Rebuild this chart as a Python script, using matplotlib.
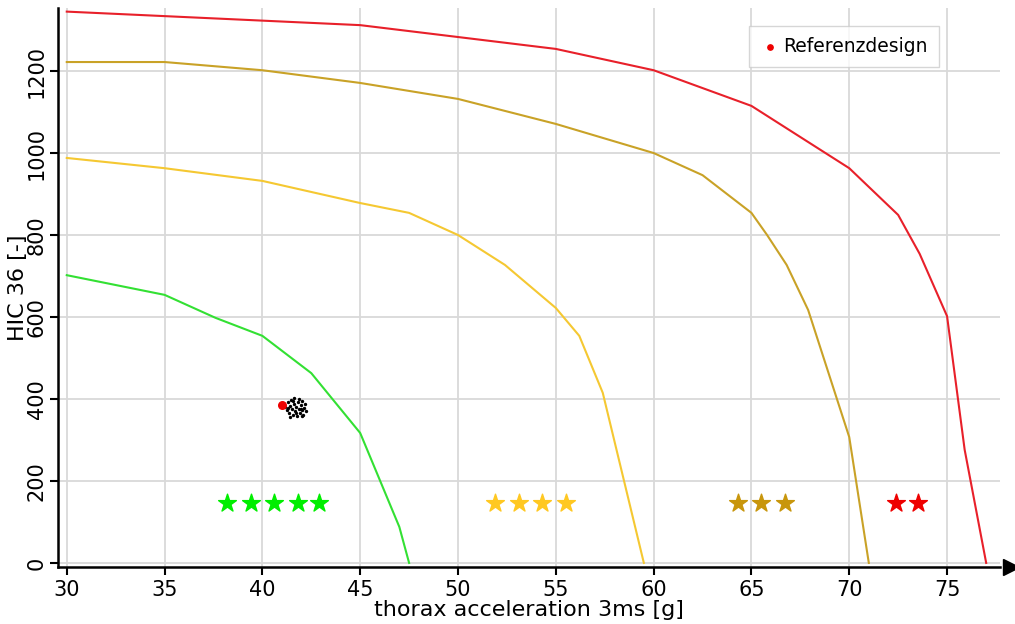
import numpy as np
import matplotlib.pyplot as plt

# limit curves (thorax acceleration [g], HIC 36 [-])
xRed = [30, 45, 50, 55, 60, 65, 70, 72.5, 73.6, 75, 75.9, 77]
yRed = [1345, 1312, 1283, 1254, 1202, 1115, 963, 849, 754, 602, 276, 0]

xGold = [30, 35, 40, 45, 50, 55, 60, 62.5, 65, 65.8, 66.8, 67.9, 70, 71]
yGold = [1222, 1222, 1202, 1171, 1132, 1071, 1000, 946, 854, 800, 727, 617, 307, 0]

xYellow = [30, 35, 40, 45, 47.5, 50, 52.4, 55, 56.2, 57.4, 59.5]
yYellow = [988, 963, 932, 878, 854, 800, 727, 622, 554, 415, 0]

xGreen = [30, 35, 37.6, 40, 42.5, 45, 47.0, 47.5]
yGreen = [702, 654, 598, 554, 463, 317, 88, 0]

# star rating markers
starGreenX = [38.2, 39.4, 40.6, 41.8, 42.9]
starYellowX = [51.9, 53.1, 54.3, 55.5]
starGoldX = [64.3, 65.5, 66.7]
starRedX = [72.4, 73.5]
starY = 145

# design samples around the reference design
sampleX = [41.15, 41.25, 41.3, 41.35, 41.4, 41.45, 41.5, 41.55, 41.6, 41.6, 41.65, 41.7,
           41.75, 41.8, 41.85, 41.9, 41.95, 42.0, 42.05, 42.1, 42.15, 42.2, 41.4, 41.55,
           41.7, 41.85, 42.0, 41.3, 41.95, 42.25]
sampleY = [380, 372, 392, 365, 384, 398, 375, 362, 388, 402, 370, 380, 358, 392, 375, 366,
           385, 372, 396, 362, 378, 388, 355, 395, 365, 400, 358, 378, 375, 370]

refX = [41.0]
refY = [385]


def main():
    fig = plt.figure(figsize=(10.15, 6.24), dpi=100)
    ax = fig.add_axes([0.0571, 0.0913, 0.928, 0.896])

    ax.plot(xRed, yRed, color="#e8202a", lw=1.5)
    ax.plot(xGold, yGold, color="#c9a227", lw=1.5)
    ax.plot(xYellow, yYellow, color="#f5c832", lw=1.5)
    ax.plot(xGreen, yGreen, color="#33e033", lw=1.5)

    ax.scatter(starGreenX, [starY] * len(starGreenX), marker="*", s=180, color="#00ee00", zorder=3)
    ax.scatter(starYellowX, [starY] * len(starYellowX), marker="*", s=180, color="#ffc822", zorder=3)
    ax.scatter(starGoldX, [starY] * len(starGoldX), marker="*", s=180, color="#c8960c", zorder=3)
    ax.scatter(starRedX, [starY] * len(starRedX), marker="*", s=180, color="#ee0000", zorder=3)

    ax.scatter(sampleX, sampleY, s=2, color="black", zorder=4)
    ax.scatter(refX, refY, s=30, color="#ee0000", zorder=5, label="Referenzdesign")

    ax.set_xlim(29.55, 77.7)
    ax.set_ylim(-10, 1354)
    ax.set_xticks(np.arange(30, 80, 5))
    ax.set_yticks(np.arange(0, 1400, 200))
    ax.grid(True, color="#d9d9d9", lw=1.3)
    ax.set_axisbelow(True)

    for s in ["top", "right"]:
        ax.spines[s].set_visible(False)
    ax.spines["left"].set_linewidth(1.8)
    ax.spines["bottom"].set_linewidth(1.8)
    ax.plot(1.012, 0, ">k", markersize=12, transform=ax.transAxes, clip_on=False)

    ax.tick_params(axis="both", labelsize=15, length=6, width=1.5)
    ax.tick_params(axis="y", pad=2)
    plt.setp(ax.get_yticklabels(), rotation=90, va="center")
    ax.set_xlabel("thorax acceleration 3ms [g]", fontsize=16, labelpad=0)
    ax.set_ylabel("HIC 36 [-]", fontsize=16, labelpad=-1)

    leg = ax.legend(loc="upper right", bbox_to_anchor=(0.945, 0.985), fontsize=13.5,
                    handletextpad=0.2, handlelength=1.0, markerscale=0.7,
                    fancybox=False, borderpad=0.6)
    leg.get_frame().set_edgecolor("#cccccc")

    fig.savefig("out.png", dpi=100)


if __name__ == "__main__":
    main()
